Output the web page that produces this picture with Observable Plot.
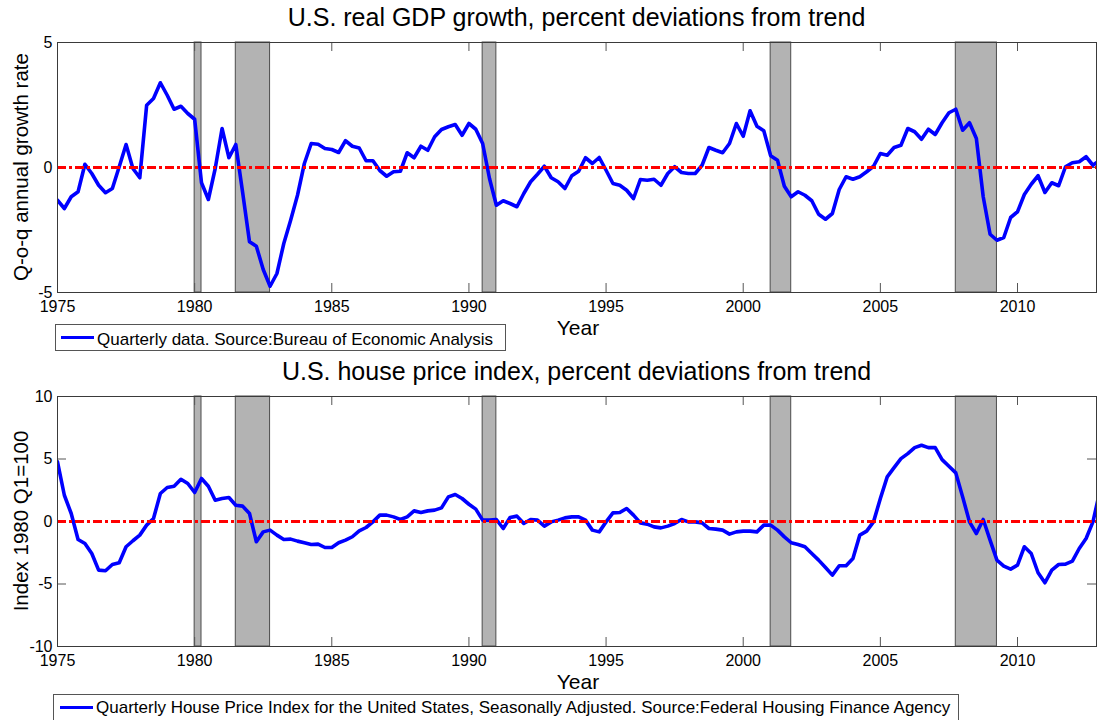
<!DOCTYPE html>
<html>
<head>
<meta charset="utf-8">
<script src="https://cdn.jsdelivr.net/npm/d3@7"></script>
<script src="https://cdn.jsdelivr.net/npm/@observablehq/plot@0.6"></script>
<style>
  body { margin: 0; background: #fff; }
  #root { position: relative; width: 1097px; height: 720px; overflow: hidden; background: #fff;
          font-family: "Liberation Sans", Arial, Helvetica, sans-serif; color: #000; }
  .plot { position: absolute; left: 0; }
  .txt { position: absolute; white-space: nowrap; line-height: 1; z-index: 5; }
  .title { font-size: 25px; left: 57px; width: 1039px; text-align: center; }
  .xlab { font-size: 21px; }
  .ylab { font-size: 20.5px; transform: translate(-50%, -50%) rotate(-90deg); }
  .legbox { position: absolute; border: 1px solid #555; background: #fff; z-index: 4; box-sizing: border-box; }
  .legline { position: absolute; height: 3px; background: #0000ff; z-index: 6; }
  .legtxt { font-size: 17px; }
</style>
</head>
<body>
<div id="root"></div>
<script>
// ---------------- data ----------------
const startYear = 1975;            // first quarter shown (1975 Q1), one value per quarter
const xDomain = [1975, 2012.88];
const xTicks = [1975, 1980, 1985, 1990, 1995, 2000, 2005, 2010];
const gdpTicks = [-5, 0, 5];
const hpiTicks = [-10, -5, 0, 5, 10];

// U.S. real GDP growth, percent deviation from trend (quarterly)
const gdpValues = [
  -1.31, -1.64, -1.17, -0.97,   // 1975
   0.13, -0.24, -0.71, -1.01,   // 1976
  -0.84,  0.03,  0.92, -0.04,   // 1977
  -0.41,  2.49,  2.76,  3.39,   // 1978
   2.89,  2.33,  2.45,  2.16,   // 1979
   1.93, -0.61, -1.28, -0.04,   // 1980
   1.56,  0.39,  0.92, -1.00,   // 1981
  -2.97, -3.15, -4.08, -4.75,   // 1982
  -4.24, -3.04, -2.11, -1.11,   // 1983
   0.16,  0.96,  0.93,  0.76,   // 1984
   0.72,  0.60,  1.07,  0.85,   // 1985
   0.78,  0.27,  0.27, -0.12,   // 1986
  -0.35, -0.17, -0.15,  0.59,   // 1987
   0.39,  0.85,  0.69,  1.23,   // 1988
   1.52,  1.63,  1.72,  1.29,   // 1989
   1.76,  1.53,  0.96, -0.44,   // 1990
  -1.51, -1.33, -1.44, -1.57,   // 1991
  -1.04, -0.57, -0.27,  0.05,   // 1992
  -0.41, -0.57, -0.84, -0.33,   // 1993
  -0.15,  0.39,  0.16,  0.40,   // 1994
  -0.11, -0.64, -0.71, -0.91,   // 1995
  -1.24, -0.48, -0.51, -0.47,   // 1996
  -0.71, -0.24,  0.03, -0.20,   // 1997
  -0.24, -0.24,  0.09,  0.80,   // 1998
   0.69,  0.59,  0.96,  1.76,   // 1999
   1.25,  2.27,  1.65,  1.47,   // 2000
   0.47,  0.29, -0.75, -1.17,   // 2001
  -0.97, -1.11, -1.33, -1.87,   // 2002
  -2.07, -1.84, -0.88, -0.37,   // 2003
  -0.47, -0.37, -0.17,  0.05,   // 2004
   0.56,  0.49,  0.80,  0.89,   // 2005
   1.56,  1.43,  1.13,  1.53,   // 2006
   1.32,  1.79,  2.19,  2.33,   // 2007
   1.49,  1.79,  1.16, -1.17,   // 2008
  -2.67, -2.91, -2.80, -2.00,   // 2009
  -1.77, -1.08, -0.67, -0.33,   // 2010
  -1.00, -0.61, -0.73,  0.03,   // 2011
   0.19,  0.23,  0.43,  0.09,   // 2012
   0.30                          // 2013
];

// U.S. house price index, percent deviation from trend (quarterly)
const hpiValues = [
   4.77,  2.10,  0.64, -1.44,   // 1975
  -1.76, -2.56, -3.89, -3.94,   // 1976
  -3.44, -3.30, -2.02, -1.54,   // 1977
  -1.09, -0.29,  0.24,  2.24,   // 1978
   2.72,  2.82,  3.38,  3.04,   // 1979
   2.32,  3.44,  2.82,  1.70,   // 1980
   1.84,  1.92,  1.30,  1.23,   // 1981
   0.64, -1.62, -0.83, -0.69,   // 1982
  -1.09, -1.44, -1.41, -1.57,   // 1983
  -1.70, -1.84, -1.81, -2.08,   // 1984
  -2.08, -1.70, -1.49, -1.22,   // 1985
  -0.75, -0.48, -0.03,  0.51,   // 1986
   0.51,  0.37,  0.16,  0.37,   // 1987
   0.85,  0.72,  0.85,  0.91,   // 1988
   1.09,  1.97,  2.16,  1.84,   // 1989
   1.38,  0.99,  0.11,  0.11,   // 1990
   0.16, -0.56,  0.32,  0.43,   // 1991
  -0.16,  0.16,  0.11, -0.37,   // 1992
  -0.03,  0.11,  0.29,  0.37,   // 1993
   0.37,  0.11, -0.69, -0.83,   // 1994
  -0.03,  0.69,  0.72,  1.04,   // 1995
   0.51, -0.11, -0.21, -0.43,   // 1996
  -0.51, -0.37, -0.16,  0.16,   // 1997
  -0.03, -0.03, -0.11, -0.56,   // 1998
  -0.61, -0.69, -1.01, -0.83,   // 1999
  -0.77, -0.77, -0.83, -0.29,   // 2000
  -0.29, -0.69, -1.23, -1.70,   // 2001
  -1.84, -2.02, -2.56, -3.09,   // 2002
  -3.68, -4.29, -3.54, -3.54,   // 2003
  -2.96, -1.09, -0.77, -0.03,   // 2004
   1.84,  3.57,  4.31,  5.03,   // 2005
   5.43,  5.91,  6.10,  5.91,   // 2006
   5.91,  4.95,  4.42,  3.89,   // 2007
   1.97, -0.03, -0.96,  0.16,   // 2008
  -1.49, -3.09, -3.57, -3.81,   // 2009
  -3.49, -2.02, -2.56, -4.10,   // 2010
  -4.90, -3.89, -3.44, -3.41,   // 2011
  -3.17, -2.16, -1.36, -0.03,   // 2012
   2.40                          // 2013
];

// NBER recessions (start, end), in years
const recessionStart = [1980.0, 1981.5, 1990.5, 2001.0, 2007.75];
const recessionEnd   = [1980.25, 1982.75, 1991.0, 2001.75, 2009.25];

const titles = [
  "U.S. real GDP growth, percent deviations from trend",
  "U.S. house price index, percent deviations from trend"
];
const yLabels = ["Q-o-q annual growth rate", "Index 1980 Q1=100"];
const xLabel = "Year";
const legends = [
  "Quarterly data. Source:Bureau of Economic Analysis",
  "Quarterly House Price Index for the United States, Seasonally Adjusted. Source:Federal Housing Finance Agency"
];

// ---------------- drawing ----------------
const root = document.getElementById("root");
const W = 1097, ML = 57, MR = 1, MT = 42, MB = 28, INNER_H = 250;
const PLOT_W = W - ML - MR;
const TICK = 9;
const recessions = recessionStart.map((s, i) => ({x1: s, x2: recessionEnd[i]}));
const fmt = d => String(d);

function panel(values, yDomain, yTicks, top) {
  const data = values.map((v, i) => ({date: startYear + i / 4, value: v}));
  const chart = Plot.plot({
    width: W, height: MT + INNER_H + MB,
    marginTop: MT, marginBottom: MB, marginLeft: ML, marginRight: MR,
    x: {domain: xDomain},
    y: {domain: yDomain},
    style: {fontFamily: '"Liberation Sans", Arial, sans-serif', fontSize: "16px", color: "#000", background: "none"},
    marks: [
      Plot.rect(recessions, {x1: "x1", x2: "x2", fill: "#b3b3b3", stroke: "#4d4d4d", strokeWidth: 1}),
      Plot.tickX(xTicks, {x: d => d, stroke: "#555", insetTop: INNER_H - TICK}),
      Plot.tickX(xTicks, {x: d => d, stroke: "#555", insetBottom: INNER_H - TICK}),
      Plot.tickY(yTicks, {y: d => d, stroke: "#555", insetRight: PLOT_W - TICK}),
      Plot.tickY(yTicks, {y: d => d, stroke: "#555", insetLeft: PLOT_W - TICK}),
      Plot.line(data, {x: "date", y: "value", stroke: "#0000ff", strokeWidth: 3.6, clip: true}),
      Plot.ruleY([0], {stroke: "#ff0000", strokeWidth: 3, strokeDasharray: "9,3,3,3"}),
      Plot.frame({stroke: "#3a3a3a"}),
      Plot.axisX({ticks: xTicks, tickSize: 0, tickPadding: 8, tickFormat: fmt, label: null}),
      Plot.axisY({ticks: yTicks, tickSize: 0, tickPadding: 5, tickFormat: fmt, label: null})
    ]
  });
  chart.classList.add("plot");
  chart.style.top = top + "px";
  chart.style.position = "absolute";
  root.appendChild(chart);
}

panel(gdpValues, [-5, 5], gdpTicks, 0);
panel(hpiValues, [-10, 10], hpiTicks, 354);

function addText(text, cls, css) {
  const d = document.createElement("div");
  d.className = "txt " + cls;
  d.textContent = text;
  Object.assign(d.style, css);
  root.appendChild(d);
  return d;
}
function addBox(cls, css) {
  const d = document.createElement("div");
  d.className = cls;
  Object.assign(d.style, css);
  root.appendChild(d);
  return d;
}

// titles
addText(titles[0], "title", {top: "5px"});
addText(titles[1], "title", {top: "359px"});
// y labels
addText(yLabels[0], "ylab", {left: "21px", top: "167px"});
addText(yLabels[1], "ylab", {left: "21px", top: "521px"});
// x labels
addText(xLabel, "xlab", {left: "578px", top: "317px", transform: "translateX(-50%)"});
addText(xLabel, "xlab", {left: "578px", top: "671px", transform: "translateX(-50%)"});
// legends
addBox("legbox", {left: "55px", top: "324px", width: "451px", height: "27px"});
addBox("legline", {left: "61px", top: "336px", width: "33px"});
addText(legends[0], "legtxt", {left: "97px", top: "331px"});
addBox("legbox", {left: "53px", top: "694px", width: "906px", height: "40px"});
addBox("legline", {left: "60px", top: "706px", width: "33px"});
addText(legends[1], "legtxt", {left: "96px", top: "699px"});
</script>
</body>
</html>
